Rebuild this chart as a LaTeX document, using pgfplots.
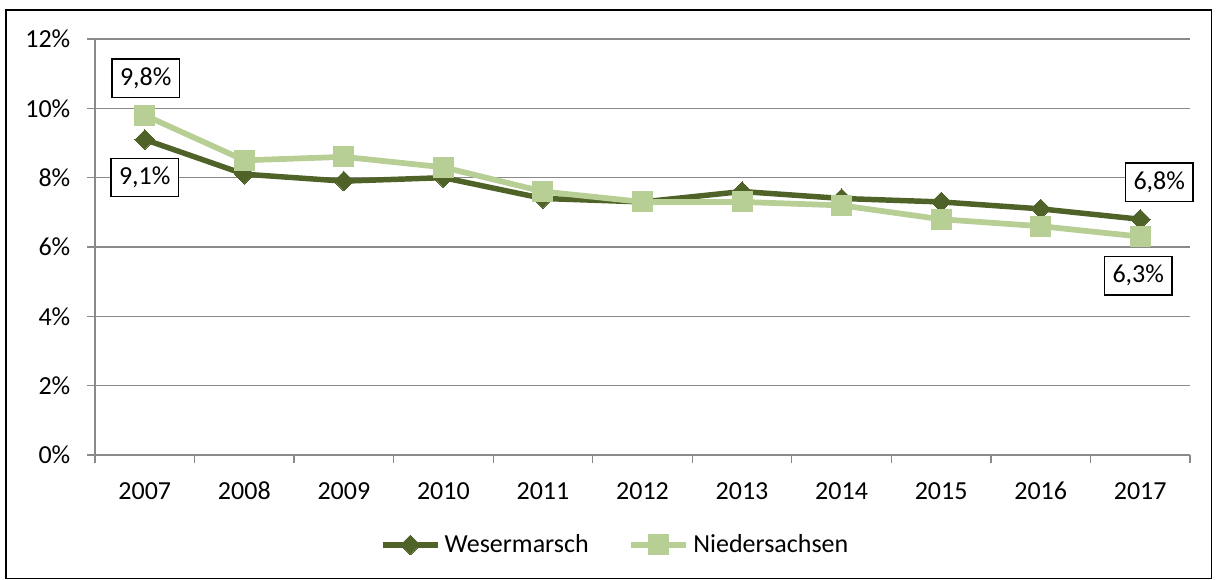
\documentclass[border=0pt]{standalone}
\usepackage{pgfplots}
\pgfplotsset{compat=1.18}
\usepackage{fontspec}
\setmainfont{Carlito}
\definecolor{darkg}{RGB}{79,98,40}
\definecolor{lightg}{RGB}{183,206,149}
\definecolor{gridc}{RGB}{137,137,137}
\begin{document}
\begin{tikzpicture}[font=\fontsize{19.5}{23}\selectfont]
\useasboundingbox (0,0) rectangle (912.75pt,434.25pt);
\draw[black, line width=0.9pt] (4.5pt,0.4pt) rectangle (908.6pt,426.75pt);
\begin{axis}[
  at={(71.25pt,93pt)}, anchor=south west,
  scale only axis, width=821.25pt, height=312pt,
  xmin=-0.5, xmax=10.5, ymin=0, ymax=12,
  axis x line=bottom, axis y line=left,
  axis line style={-, gridc, line width=1pt},
  xtick={0,...,10},
  xticklabels={2007,2008,2009,2010,2011,2012,2013,2014,2015,2016,2017},
  minor xtick={-0.5,0.5,...,10.5},
  ytick={0,2,...,12},
  yticklabel={\pgfmathprintnumber{\tick}\%},
  /pgf/number format/assume math mode=true,
  typeset ticklabels with strut,
  tick align=outside,
  major tick length=6pt, minor tick length=6pt,
  x tick style={draw=none},
  minor x tick style={draw=gridc, line width=1pt},
  y tick style={draw=gridc, line width=1pt},
  ymajorgrids, grid style={gridc, line width=1pt},
  yticklabel style={xshift=-9pt},
  xticklabel style={yshift=-8pt},
  clip=false,
  legend columns=2,
  legend style={at={(0.476,-0.216)}, anchor=center, draw=none, fill=none,
    /tikz/every even column/.append style={column sep=27pt},
    nodes={inner xsep=3pt}},
  legend cell align=left,
  legend image code/.code={\draw[mark repeat=2,mark phase=2,#1] plot coordinates {(0pt,0pt) (20.6pt,0pt) (41.25pt,0pt)};},
]
\addplot[darkg, line width=4.1pt, mark=square*, mark size=5.2pt, mark options={rotate=45, line width=0pt, fill=darkg}]
  coordinates {(0,9.1) (1,8.1) (2,7.9) (3,8.0) (4,7.4) (5,7.3) (6,7.6) (7,7.4) (8,7.3) (9,7.1) (10,6.8)};
\addlegendentry{Wesermarsch}
\addplot[lightg, line width=4.3pt, mark=square*, mark size=7.5pt, mark options={line width=0pt, fill=lightg}]
  coordinates {(0,9.8) (1,8.5) (2,8.6) (3,8.3) (4,7.6) (5,7.3) (6,7.3) (7,7.2) (8,6.8) (9,6.6) (10,6.3)};
\addlegendentry{Niedersachsen}
\tikzset{lab/.style={draw=black, line width=0.9pt, fill=white, inner xsep=6pt, inner ysep=0pt, minimum height=29pt, anchor=center}}
\node[lab] at ([xshift=0.75pt,yshift=27.75pt]axis cs:0,9.8) {9,8\%};
\node[lab] at ([yshift=-28.5pt]axis cs:0,9.1) {9,1\%};
\node[lab] at ([xshift=14.25pt,yshift=27.75pt]axis cs:10,6.8) {6,8\%};
\node[lab] at ([xshift=-1.5pt,yshift=-29.25pt]axis cs:10,6.3) {6,3\%};
\end{axis}
\end{tikzpicture}
\end{document}
